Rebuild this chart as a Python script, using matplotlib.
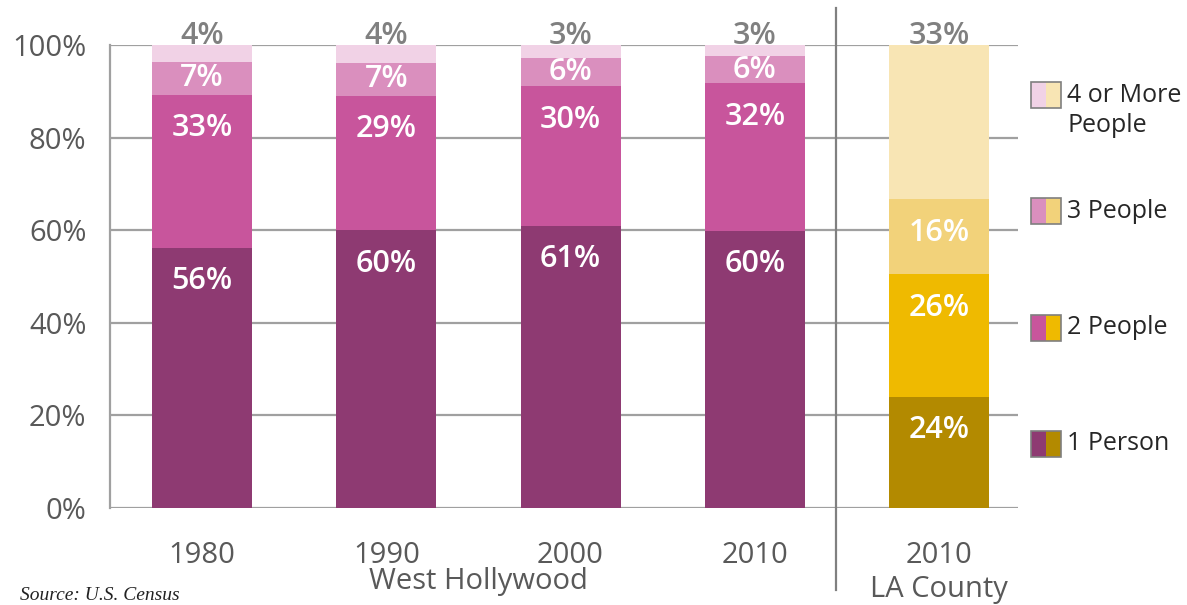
import matplotlib.pyplot as plt
from matplotlib.patches import Rectangle
from matplotlib.transforms import blended_transform_factory

plt.rcParams['font.family'] = ['Open Sans', 'DejaVu Sans']

# Household size shares (%)
groups = ['1980', '1990', '2000', '2010', '2010']
one_person = [56.2, 60.0, 60.9, 59.8, 24.0]
two_people = [33.0, 29.0, 30.2, 31.9, 26.5]
three_people = [7.2, 7.2, 6.2, 6.0, 16.2]
four_plus = [3.6, 3.8, 2.7, 2.3, 33.3]

one_labels = ['56%', '60%', '61%', '60%', '24%']
two_labels = ['33%', '29%', '30%', '32%', '26%']
three_labels = ['7%', '7%', '6%', '6%', '16%']
four_labels = ['4%', '4%', '3%', '3%', '33%']

legend_labels = ['4 or More\nPeople', '3 People', '2 People', '1 Person']

weho_colors = ['#8E3A72', '#C8559C', '#DA8FBE', '#F1D2E6']
la_colors = ['#B38A00', '#EFBA00', '#F2D27A', '#F8E5B4']

fig = plt.figure(figsize=(11.87, 6.05), dpi=100)
ax = fig.add_axes([0.0927, 0.1603, 0.765, 0.7653])

x = list(range(len(groups)))
width = 0.543
series = [one_person, two_people, three_people, four_plus]
labels = [one_labels, two_labels, three_labels, four_labels]

# gridlines behind bars
for yv in range(0, 101, 20):
    ax.axhline(yv, color='#A0A0A0', lw=1.6, zorder=1)

for i in x:
    cols = la_colors if i == 4 else weho_colors
    bottom = 0
    for k in range(4):
        h = series[k][i]
        ax.bar(i, h, width, bottom=bottom, color=cols[k], zorder=2, linewidth=0)
        top = bottom + h
        if k < 3:
            ypos = top - min(7.2, h / 2)
            ax.text(i, ypos, labels[k][i], ha='center', va='center', color='white',
                    fontsize=22, fontweight='semibold', zorder=3)
        else:
            ax.text(i, top + 0.2, labels[k][i], ha='center', va='baseline', color='#808080',
                    fontsize=22, fontweight='semibold', zorder=3, clip_on=False)
        bottom = top

ax.set_xlim(-0.4993, 4.429)
ax.set_ylim(0, 100)
ax.set_yticks(range(0, 101, 20))
ax.set_yticklabels([f'{v}%' for v in range(0, 101, 20)])
ax.set_xticks(x)
ax.set_xticklabels(groups)
ax.tick_params(axis='both', length=0, labelsize=21, labelcolor='#595959')
ax.tick_params(axis='y', pad=17)
ax.tick_params(axis='x', pad=24)
for s in ['top', 'right', 'bottom']:
    ax.spines[s].set_visible(False)
ax.spines['left'].set_color('#A0A0A0')
ax.spines['left'].set_linewidth(1.6)

# separator between West Hollywood and LA County
tr = blended_transform_factory(ax.transData, ax.transAxes)
ax.plot([3.44, 3.44], [-0.177, 1.08], color='#808080', lw=1.6, transform=tr, clip_on=False, zorder=4)

# group captions
ax.text(1.5, -0.159, 'West Hollywood', transform=tr, ha='center', va='center',
        fontsize=21, color='#595959')
ax.text(4, -0.177, 'LA County', transform=tr, ha='center', va='center',
        fontsize=21, color='#595959')

# legend with split swatches
leg_y = [95, 211, 328, 444]
w = 15 / 1187
hgt = 26 / 605
x0 = 1031 / 1187
for j, lab in enumerate(legend_labels):
    k = 3 - j
    yc = 1 - leg_y[j] / 605
    fig.patches.append(Rectangle((x0, yc - hgt / 2), w, hgt, transform=fig.transFigure,
                                 facecolor=weho_colors[k], edgecolor='none'))
    fig.patches.append(Rectangle((x0 + w, yc - hgt / 2), w, hgt, transform=fig.transFigure,
                                 facecolor=la_colors[k], edgecolor='none'))
    fig.patches.append(Rectangle((x0, yc - hgt / 2), 2 * w, hgt, transform=fig.transFigure,
                                 facecolor='none', edgecolor='#7F7F7F', lw=1.2))
    for n, line in enumerate(lab.split('\n')):
        fig.text(1067 / 1187, yc - n * 31 / 605, line, ha='left', va='center',
                 fontsize=18, color='#262626')

fig.text(20 / 1187, 1 / 605, 'Source: U.S. Census', ha='left', va='bottom',
         fontsize=14, style='italic', family='Liberation Serif', color='#222222')

fig.savefig('out.png', dpi=100)
